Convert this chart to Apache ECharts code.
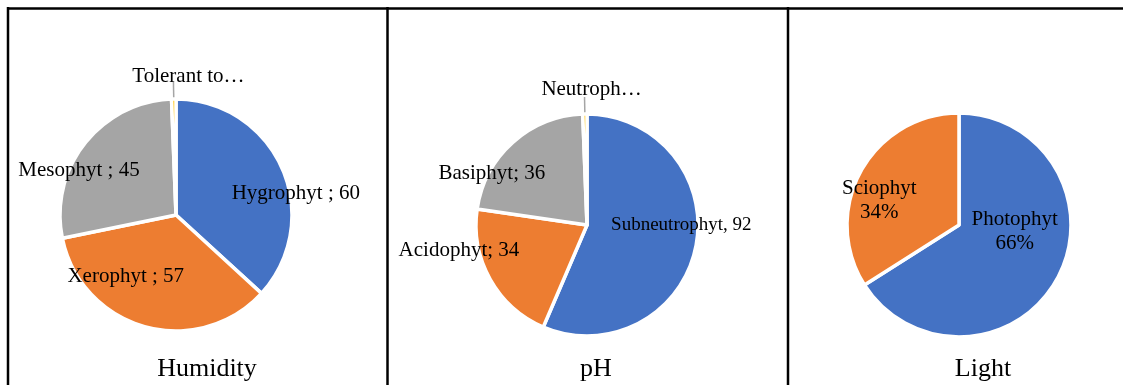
<!DOCTYPE html>
<html>
<head>
<meta charset="utf-8">
<title>Ecological groups</title>
<script src="https://cdn.jsdelivr.net/npm/echarts@6/dist/echarts.min.js"></script>
<style>
  html, body { margin: 0; padding: 0; background: #fff; }
  #chart { width: 1123px; height: 385px; }
</style>
</head>
<body>
<div id="chart"></div>
<script>
// Humidity groups
const humidityNames = ['Hygrophyt', 'Xerophyt', 'Mesophyt', 'Tolerant to…'];
const humidityValues = [60, 57, 45, 1];
const humiditySeparators = [' ; ', ' ; ', ' ; ', null];

// pH groups
const phNames = ['Subneutrophyt', 'Acidophyt', 'Basiphyt', 'Neutroph…'];
const phValues = [92, 34, 36, 1];
const phSeparators = [', ', '; ', '; ', null];

// Light groups (shares)
const lightNames = ['Photophyt', 'Sciophyt'];
const lightValues = [66, 34];

const panelTitles = ['Humidity', 'pH', 'Light'];
const sliceColors = ['#4472C4', '#ED7D31', '#A5A5A5', '#FFC000'];

const serif = "'Liberation Serif', 'Times New Roman', serif";

// label nudges relative to the default inside-label spot, per slice
const humidityNudge = [[64, 3], [-34, 3], [-49, -7], [20, 5]];
const phNudge = [[37, -12], [-77, -3], [-56, -8], [12, 3]];
const lightNudge = [[4, -22], [-28, 4]];

function buildData(names, values, separators) {
  return names.map((name, i) => {
    const item = { name: name, value: values[i], itemStyle: { color: sliceColors[i] } };
    if (separators && separators[i] === null) {
      item.label = { position: 'outside', formatter: '{b}' };
      item.labelLine = { show: true, length: 17, length2: 0, lineStyle: { color: '#A5A5A5', width: 1.5 } };
    } else if (separators) {
      item.label = { formatter: '{b}' + separators[i] + '{c}' };
    }
    return item;
  });
}

function nudgeLayout(nudges, outsideIndex) {
  return function (params) {
    const n = nudges[params.dataIndex] || [0, 0];
    const out = { dx: n[0], dy: n[1] };
    if (params.dataIndex === outsideIndex) {
      out.align = 'center';
      out.verticalAlign = 'bottom';
    }
    return out;
  };
}

function pieSeries(center, radius, data, nudges, outsideIndex, extraLabel) {
  return {
    type: 'pie',
    center: center,
    radius: radius,
    startAngle: 90,
    clockwise: true,
    avoidLabelOverlap: false,
    silent: true,
    emphasis: { disabled: true },
    itemStyle: { borderColor: '#ffffff', borderWidth: 3.5 },
    label: Object.assign({
      show: true,
      position: 'inside',
      color: '#000',
      fontFamily: serif,
      fontSize: 21
    }, extraLabel || {}),
    labelLine: { show: false },
    labelLayout: nudgeLayout(nudges, outsideIndex),
    data: data
  };
}

const phData = buildData(phNames, phValues, phSeparators);
phData[0].label.fontSize = 19;

const chart = echarts.init(document.getElementById('chart'), null, { renderer: 'canvas' });

const lineStyle = { stroke: '#000', lineWidth: 2.5 };
const titleFont = '26px ' + serif;
chart.setOption({
  animation: false,
  backgroundColor: '#fff',
  graphic: [
    { type: 'line', shape: { x1: 7, y1: 8.5, x2: 1123, y2: 8.5 }, style: lineStyle },
    { type: 'line', shape: { x1: 8, y1: 7, x2: 8, y2: 385 }, style: lineStyle },
    { type: 'line', shape: { x1: 387.5, y1: 7, x2: 387.5, y2: 385 }, style: lineStyle },
    { type: 'line', shape: { x1: 788, y1: 7, x2: 788, y2: 385 }, style: lineStyle },
    { type: 'text', x: 207, y: 369, style: { text: panelTitles[0], align: 'center', verticalAlign: 'middle', font: titleFont, fill: '#000' } },
    { type: 'text', x: 596, y: 369, style: { text: panelTitles[1], align: 'center', verticalAlign: 'middle', font: titleFont, fill: '#000' } },
    { type: 'text', x: 983, y: 369, style: { text: panelTitles[2], align: 'center', verticalAlign: 'middle', font: titleFont, fill: '#000' } }
  ],
  series: [
    pieSeries([176, 215], 116, buildData(humidityNames, humidityValues, humiditySeparators), humidityNudge, 3),
    pieSeries([587, 225], 111, phData, phNudge, 3),
    pieSeries([959, 225], 112, buildData(lightNames, lightValues, null), lightNudge, -1,
      { formatter: '{b}\n{d}%', lineHeight: 24 })
  ]
});
</script>
</body>
</html>
